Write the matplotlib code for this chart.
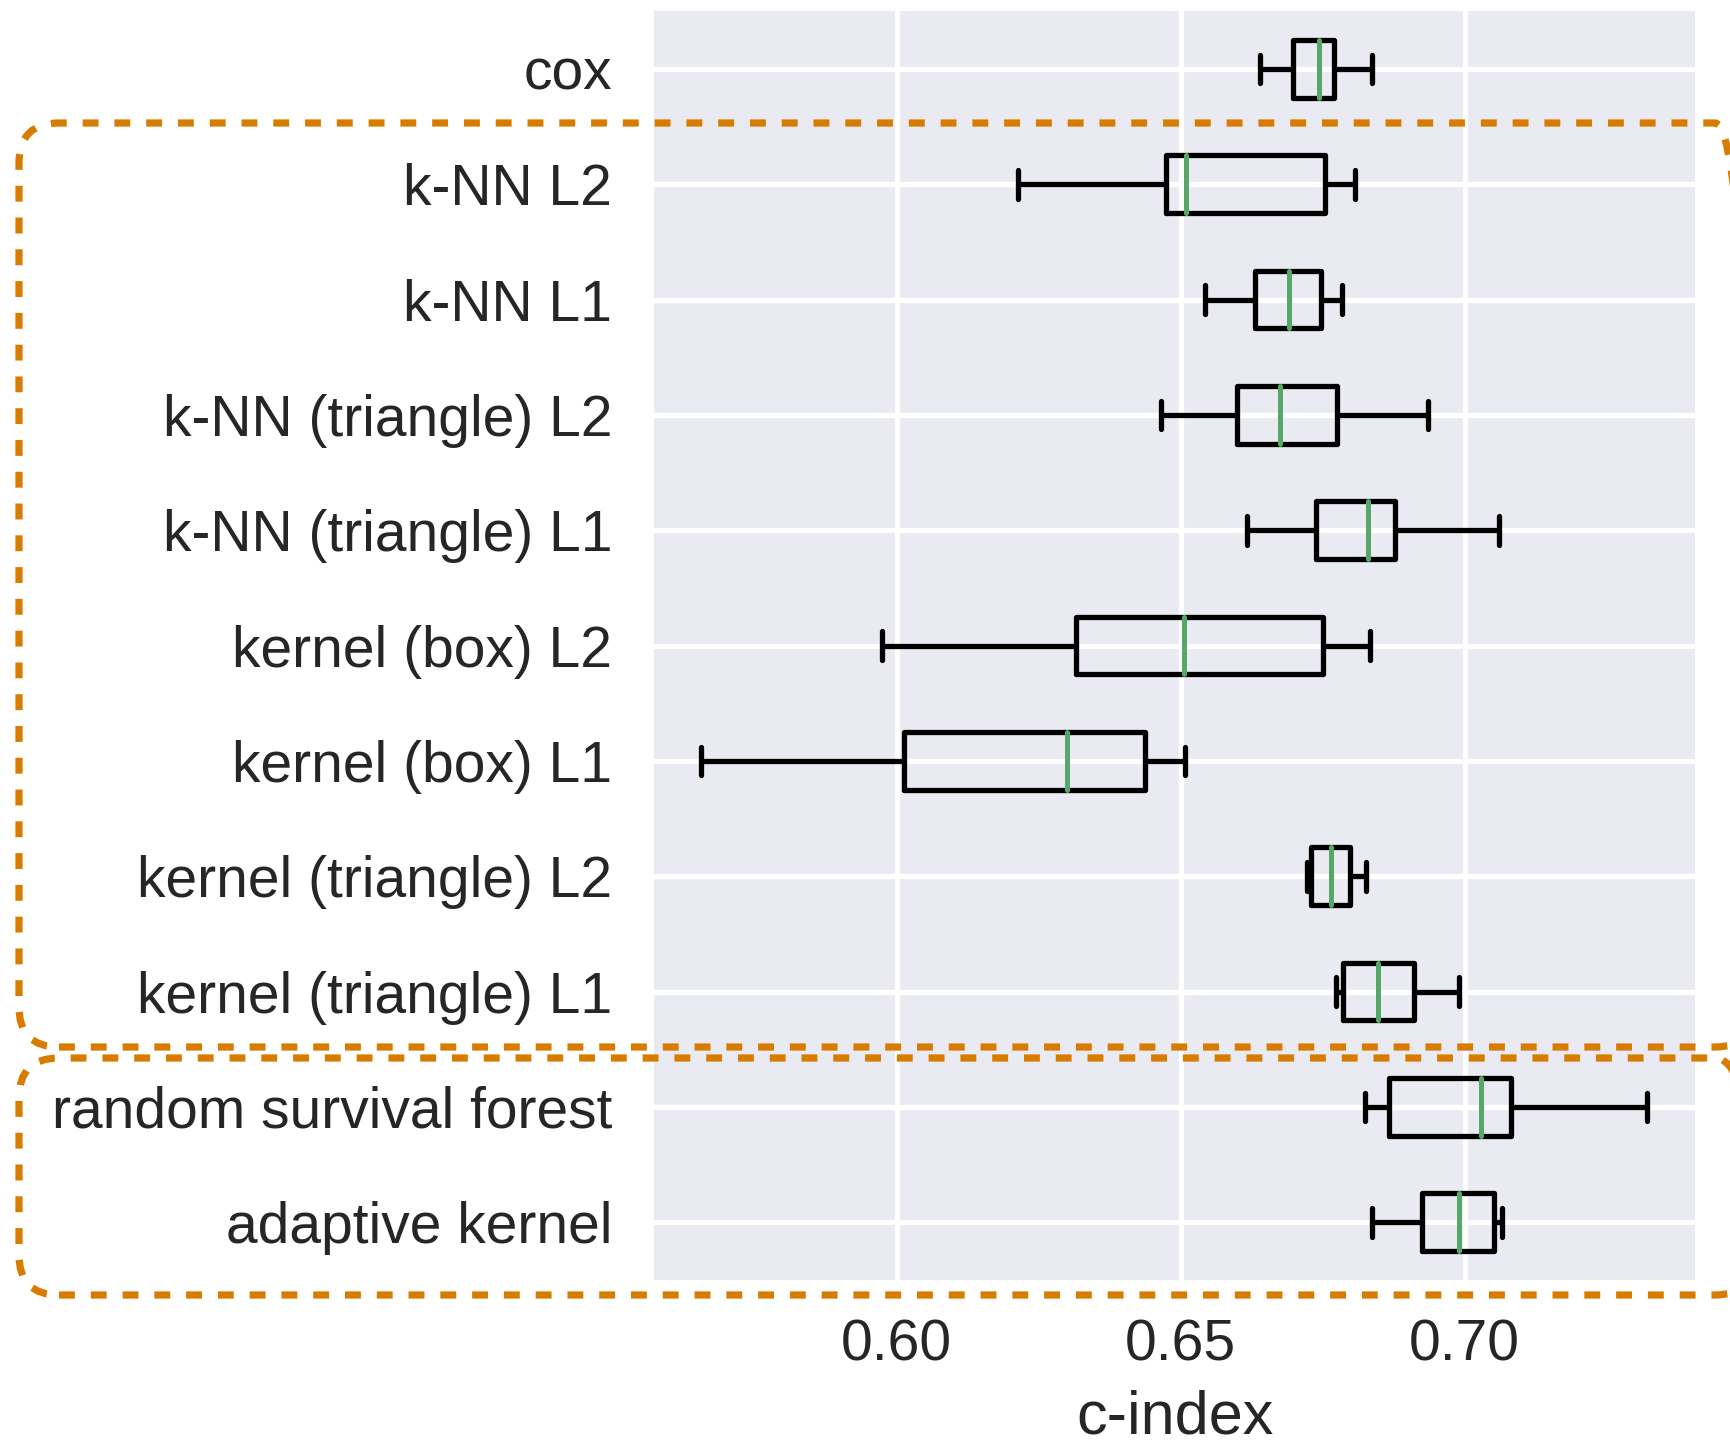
import matplotlib

matplotlib.use("Agg")
import matplotlib.pyplot as plt
import seaborn as sns
from matplotlib.patches import FancyBboxPatch

# five-number summaries, top row first
methods = [
    "cox",
    "k-NN L2",
    "k-NN L1",
    "k-NN (triangle) L2",
    "k-NN (triangle) L1",
    "kernel (box) L2",
    "kernel (box) L1",
    "kernel (triangle) L2",
    "kernel (triangle) L1",
    "random survival forest",
    "adaptive kernel",
]
whislo = [0.6640, 0.6214, 0.6543, 0.6465, 0.6617, 0.5975, 0.5656, 0.6722, 0.6774, 0.6824, 0.6836]
q1 = [0.6697, 0.6474, 0.6631, 0.6600, 0.6738, 0.6315, 0.6013, 0.6729, 0.6785, 0.6866, 0.6924]
med = [0.6743, 0.6510, 0.6691, 0.6675, 0.6829, 0.6506, 0.6300, 0.6765, 0.6847, 0.7029, 0.6990]
q3 = [0.6770, 0.6754, 0.6747, 0.6776, 0.6877, 0.6751, 0.6437, 0.6798, 0.6911, 0.7081, 0.7051]
whishi = [0.6837, 0.6807, 0.6784, 0.6935, 0.7060, 0.6833, 0.6508, 0.6826, 0.6990, 0.7320, 0.7066]
xticks = [0.60, 0.65, 0.70]

ORANGE = "#d87c00"
GREEN = "#55a868"

sns.set_style("darkgrid")
plt.rcParams["font.family"] = ["Liberation Sans", "DejaVu Sans"]

fig = plt.figure(figsize=(8.65, 7.225), dpi=200)
ax = fig.add_axes([0.378, 0.1142, 0.602, 0.878])

stats = [
    dict(label=m, whislo=a, q1=b, med=c, q3=d, whishi=e, fliers=[])
    for m, a, b, c, d, e in zip(methods, whislo, q1, med, q3, whishi)
]
positions = list(range(len(methods), 0, -1))
line = dict(color="black", linewidth=1.9, solid_capstyle="round")
ax.bxp(
    stats,
    positions=positions,
    orientation="horizontal",
    widths=0.5,
    boxprops=line,
    whiskerprops=line,
    capprops=line,
    medianprops=dict(color=GREEN, linewidth=1.8, solid_capstyle="round"),
    showfliers=False,
)

ax.set_xlim(0.5573, 0.7406)
ax.set_ylim(0.5, len(methods) + 0.5)
ax.set_xticks(xticks)
ax.set_xticklabels([f"{t:.2f}" for t in xticks])
ax.grid(True, color="white", linewidth=1.9)
ax.tick_params(axis="y", labelsize=20.5, pad=15, length=0, labelcolor="#262626")
ax.tick_params(axis="x", labelsize=20.5, pad=14, length=0, labelcolor="#262626")
ax.set_xlabel("c-index", fontsize=22, color="#262626", labelpad=6)
for s in ax.spines.values():
    s.set_visible(False)

# dashed rounded groups, in inches from the figure's lower left corner
for x0, y0, w, h in [(0.095, 1.99, 8.68, 4.62), (0.095, 0.75, 8.68, 1.185)]:
    fig.add_artist(
        FancyBboxPatch(
            (x0, y0), w, h,
            boxstyle="round,pad=0,rounding_size=0.2",
            transform=fig.dpi_scale_trans,
            fill=False,
            edgecolor=ORANGE,
            linewidth=2.6,
            linestyle=(0, (2.2, 2.2)),
            clip_on=False,
        )
    )

fig.savefig("out.png", dpi=200)
